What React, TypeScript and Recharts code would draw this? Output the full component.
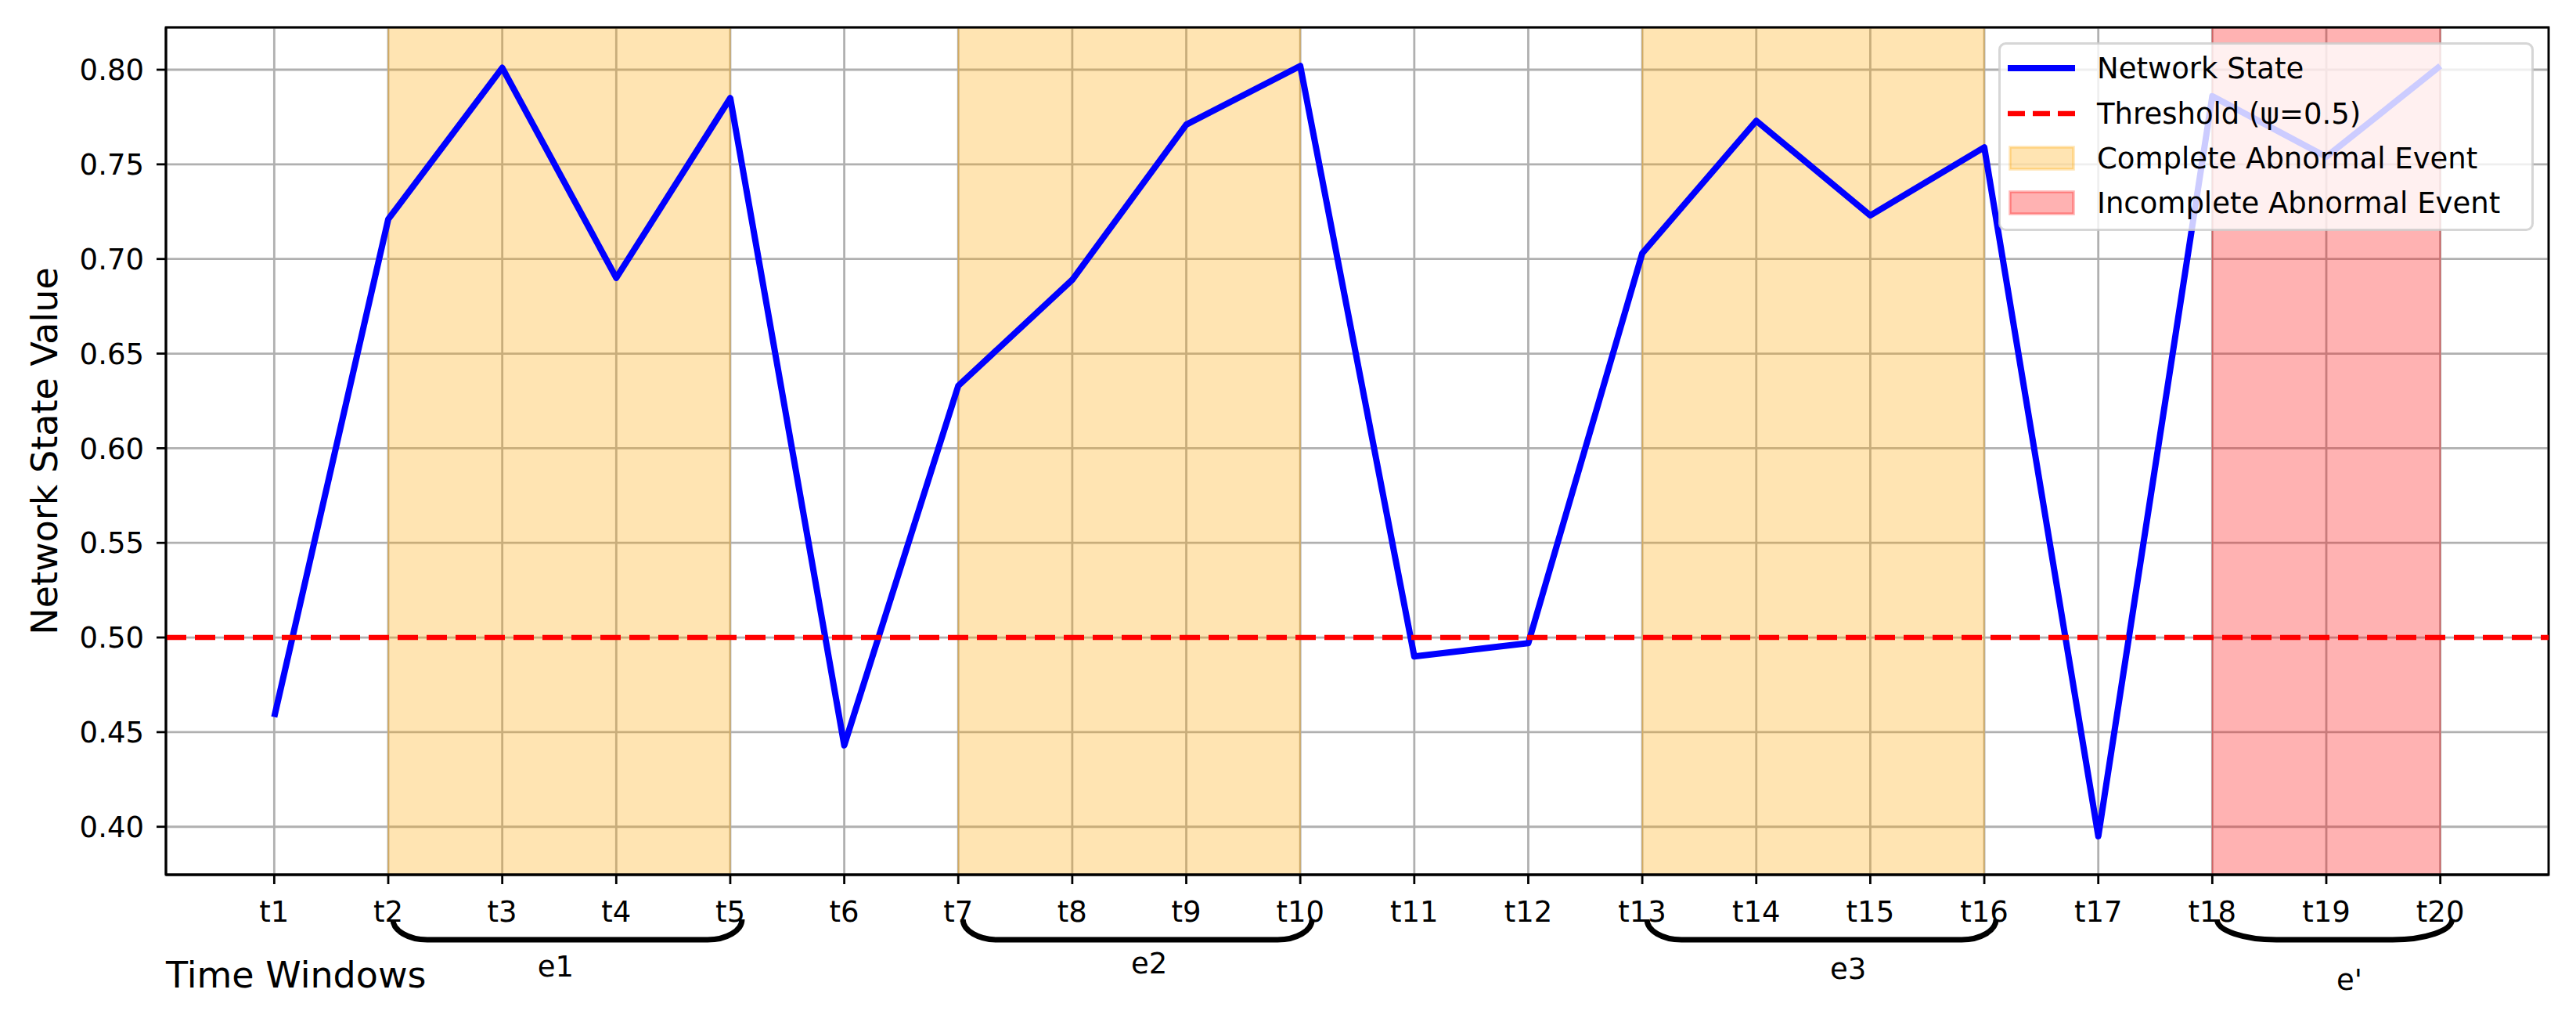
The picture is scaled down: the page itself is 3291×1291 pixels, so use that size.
import React from 'react';
import {
  CartesianGrid,
  Label,
  Legend,
  Line,
  LineChart,
  ReferenceArea,
  ReferenceLine,
  XAxis,
  YAxis,
} from 'recharts';

const timeWindows = [
  't1', 't2', 't3', 't4', 't5', 't6', 't7', 't8', 't9', 't10',
  't11', 't12', 't13', 't14', 't15', 't16', 't17', 't18', 't19', 't20',
];
const networkState = [
  0.458, 0.721, 0.801, 0.69, 0.785, 0.443, 0.633, 0.689, 0.771, 0.802,
  0.49, 0.497, 0.703, 0.773, 0.723, 0.759, 0.395, 0.786, 0.754, 0.802,
];
const yTicks = [0.4, 0.45, 0.5, 0.55, 0.6, 0.65, 0.7, 0.75, 0.8];
const thresholdValue = 0.5;

const eventLabels = ['e1', 'e2', 'e3', "e'"];
const eventStart = ['t2', 't7', 't13', 't18'];
const eventEnd = ['t5', 't10', 't16', 't20'];
const eventComplete = [true, true, true, false];

const legendLabels = [
  'Network State',
  'Threshold (ψ=0.5)',
  'Complete Abnormal Event',
  'Incomplete Abnormal Event',
];

// small placement tweaks for the brace annotations (px)
const labelShiftX = [-15, 15, 34, 19];
const labelShiftY = [0, -4, 3, 17];
const braceCorner = [44, 44, 44, 76];

const FONT = 'DejaVu Sans';
const BLUE = '#0000ff';
const RED = '#ff0000';
const ORANGE = '#ffa500';

const data = timeWindows.map((label, i) => ({ x: i + 1, label, value: networkState[i] }));
const xTicks = timeWindows.map((_, i) => i + 1);
const xPad = (xTicks.length - 1) * 0.05;
const xDomain = [1 - xPad, xTicks.length + xPad];
const yMin = Math.min(...networkState);
const yMax = Math.max(...networkState);
const yPad = (yMax - yMin) * 0.05;
const yDomain = [yMin - yPad, yMax + yPad];

function eventShape(i: number) {
  return (p: any) => {
    const { x, y, width, height } = p;
    const color = eventComplete[i] ? ORANGE : RED;
    const bottom = y + height;
    const x1 = x + 6;
    const x2 = x + width + 15;
    const r = braceCorner[i];
    const top = bottom + 57;
    const low = bottom + 83;
    const k = 0.552;
    const h = low - top;
    const d =
      `M${x1},${top} C${x1},${top + h * k} ${x1 + r * (1 - k)},${low} ${x1 + r},${low} ` +
      `L${x2 - r},${low} C${x2 - r * (1 - k)},${low} ${x2},${top + h * k} ${x2},${top}`;
    return (
      <g>
        <rect
          x={x}
          y={y}
          width={width}
          height={height}
          fill={color}
          fillOpacity={0.3}
          stroke={color}
          strokeOpacity={0.3}
          strokeWidth={1.5}
        />
        <path d={d} fill="none" stroke="#000" strokeWidth={7} />
        <text
          x={(x1 + x2) / 2 + labelShiftX[i]}
          y={bottom + 130 + labelShiftY[i]}
          textAnchor="middle"
          fontSize={37}
          fontFamily={FONT}
          fill="#000"
        >
          {eventLabels[i]}
        </text>
      </g>
    );
  };
}

function LegendBox() {
  const baselines = [46, 104, 161, 218];
  return (
    <svg width={684} height={241} style={{ display: 'block' }}>
      <rect
        x={1.5}
        y={1.5}
        width={681}
        height={238}
        rx={8}
        fill="#fff"
        fillOpacity={0.8}
        stroke="#cccccc"
        strokeOpacity={0.8}
        strokeWidth={3}
      />
      {legendLabels.map((name, i) => {
        const b = baselines[i];
        const c = b - 13;
        let handle: React.ReactNode = null;
        if (i === 0) {
          handle = <line x1={12} x2={98} y1={c} y2={c} stroke={BLUE} strokeWidth={8} />;
        } else if (i === 1) {
          handle = (
            <line x1={12} x2={98} y1={c} y2={c} stroke={RED} strokeWidth={6.5} strokeDasharray="22 10" />
          );
        } else {
          const col = i === 2 ? ORANGE : RED;
          handle = (
            <rect
              x={15}
              y={c - 14}
              width={81}
              height={28}
              fill={col}
              fillOpacity={0.3}
              stroke={col}
              strokeOpacity={0.3}
              strokeWidth={3.5}
            />
          );
        }
        return (
          <g key={name}>
            {handle}
            <text x={126} y={b} fontSize={37} fontFamily={FONT} fill="#000">
              {name}
            </text>
          </g>
        );
      })}
    </svg>
  );
}

export default function App() {
  return (
    <div style={{ width: 3291, height: 1291, background: '#fff' }}>
      <style>{'body{margin:0;background:#fff}'}</style>
      <LineChart
        width={3291}
        height={1291}
        data={data}
        margin={{ top: 35, right: 35, left: 0, bottom: 0 }}
        style={{ fontFamily: FONT }}
      >
        {eventLabels.map((name, i) => (
          <ReferenceArea
            key={name}
            x1={timeWindows.indexOf(eventStart[i]) + 1}
            x2={timeWindows.indexOf(eventEnd[i]) + 1}
            ifOverflow="visible"
            shape={eventShape(i)}
          />
        ))}
        <CartesianGrid stroke="#b0b0b0" strokeWidth={2.8} />
        <Line
          type="linear"
          dataKey="value"
          name="Network State"
          stroke={BLUE}
          strokeWidth={8}
          strokeLinejoin="round"
          dot={false}
          activeDot={false}
          isAnimationActive={false}
        />
        <ReferenceLine
          y={thresholdValue}
          stroke={RED}
          strokeWidth={6.5}
          strokeDasharray="26 11"
        />
        <ReferenceArea
          x1={xDomain[0]}
          x2={xDomain[1]}
          y1={yDomain[0]}
          y2={yDomain[1]}
          fill="none"
          stroke="#000"
          strokeWidth={2.8}
          ifOverflow="visible"
        />
        <XAxis
          type="number"
          dataKey="x"
          domain={xDomain}
          ticks={xTicks}
          interval={0}
          allowDataOverflow
          height={174}
          tickFormatter={(v: number) => timeWindows[v - 1]}
          tick={{ fontSize: 37, fill: '#000', fontFamily: FONT }}
          tickSize={12}
          tickMargin={22}
          axisLine={{ stroke: '#000', strokeWidth: 2.8 }}
          tickLine={{ stroke: '#000', strokeWidth: 2.8 }}
        >
          <Label
            content={(p: any) => {
              const vb = p.viewBox || { x: 212, y: 1117 };
              return (
                <text x={vb.x} y={vb.y + 144} fontSize={46} fontFamily={FONT} fill="#000">
                  Time Windows
                </text>
              );
            }}
          />
        </XAxis>
        <YAxis
          type="number"
          domain={yDomain}
          ticks={yTicks}
          allowDataOverflow
          width={212}
          tickFormatter={(v: number) => v.toFixed(2)}
          tick={{ fontSize: 37, fill: '#000', fontFamily: FONT }}
          tickSize={12}
          tickMargin={16}
          axisLine={{ stroke: '#000', strokeWidth: 2.8 }}
          tickLine={{ stroke: '#000', strokeWidth: 2.8 }}
        >
          <Label
            content={(p: any) => {
              const vb = p.viewBox || { y: 35, height: 1082 };
              const cy = vb.y + vb.height / 2;
              return (
                <text
                  x={73}
                  y={cy}
                  transform={`rotate(-90 73 ${cy})`}
                  textAnchor="middle"
                  fontSize={46}
                  fontFamily={FONT}
                  fill="#000"
                >
                  Network State Value
                </text>
              );
            }}
          />
        </YAxis>
        <Legend
          layout="vertical"
          align="center"
          verticalAlign="middle"
          width={684}
          height={241}
          wrapperStyle={{ left: 2553, top: 54, width: 684, height: 241, margin: 0 }}
          content={() => <LegendBox />}
        />
      </LineChart>
    </div>
  );
}
